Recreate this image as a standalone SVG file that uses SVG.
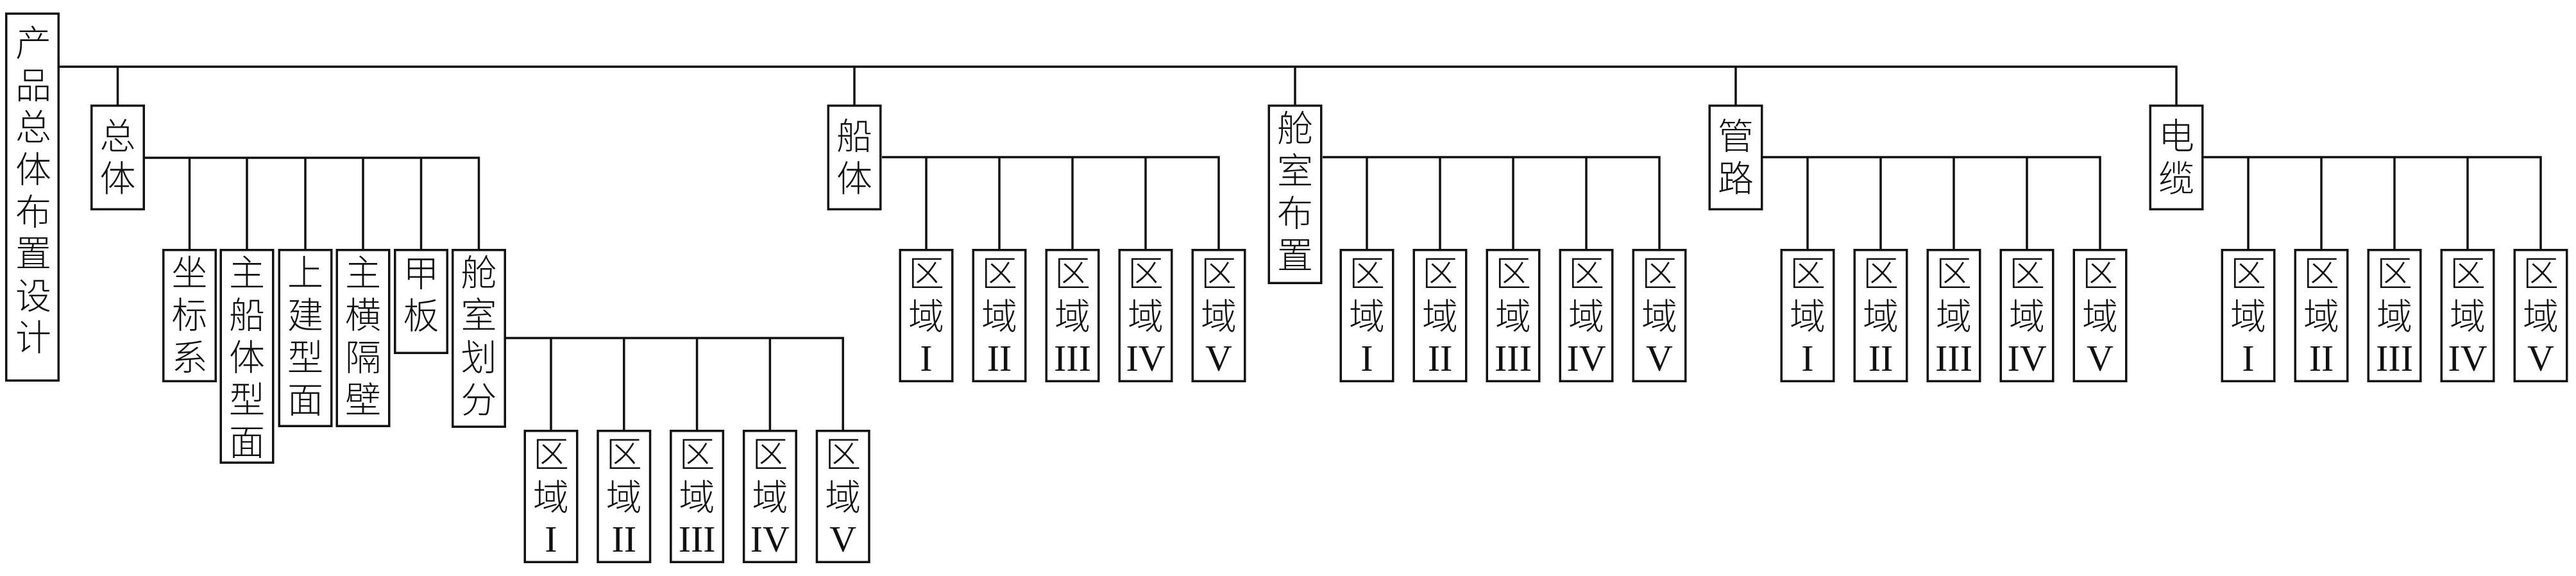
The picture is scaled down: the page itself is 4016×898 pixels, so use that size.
<svg xmlns="http://www.w3.org/2000/svg" width="4016" height="898" viewBox="0 0 4016 898">
<style>
.box{fill:#fff;stroke:#111;stroke-width:3.5}
.ln{fill:none;stroke:#111;stroke-width:3.5}
.zh{font-family:"Noto Sans CJK SC","Noto Sans CJK JP",sans-serif;font-size:56px;font-weight:300;fill:#111;writing-mode:vertical-rl;text-orientation:upright;letter-spacing:10px;text-anchor:start}
.zq{letter-spacing:11px}
.rn{font-family:"Liberation Serif","Times New Roman",serif;font-size:58px;fill:#111;text-anchor:middle}
</style>
<defs>
<g id="qy-box"><rect class="box" x="-40.75" y="1.75" width="81.5" height="204.5"/></g>
</defs>
<rect width="4016" height="898" fill="#fff"/>
<g id="connectors">
<path class="ln" d="M93 104H3393V163"/>
<path class="ln" d="M183.5 104V163M1332 104V163M2019 104V163M2706 104V163"/>
<path class="ln" d="M225 246H746.5V388M295.5 246V388M385 246V388M476 246V388M566 246V388M656.5 246V388"/>
<path class="ln" d="M788 527H1314.2V670M859 527V670M972.8 527V670M1086.6 527V670M1200.4 527V670"/>
<path class="ln" d="M1375 245H1900V388M1444 245V388M1558 245V388M1672 245V388M1786 245V388"/>
<path class="ln" d="M2062 245H2587V388M2131 245V388M2245 245V388M2359 245V388M2473 245V388"/>
<path class="ln" d="M2748 245H3274V388M2818 245V388M2932 245V388M3046 245V388M3160 245V388"/>
<path class="ln" d="M3435 245H3961V388M3505 245V388M3619 245V388M3733 245V388M3847 245V388"/>
</g>
<g id="root">
<rect class="box" x="9.75" y="21.25" width="81.5" height="572"/>
<text class="zh" x="52" y="38" style="letter-spacing:9.6px">产品总体布置设计</text>
</g>
<g id="zongti" transform="translate(183.5,163)"><rect class="box" x="-40.75" y="1.75" width="81.5" height="161.5"/><text class="zh" x="0" y="20">总体</text></g>
<g id="chuanti" transform="translate(1332,163)"><rect class="box" x="-40.75" y="1.75" width="81.5" height="161.5"/><text class="zh" x="0" y="20">船体</text></g>
<g id="cangshibuzhi" transform="translate(2019,163)"><rect class="box" x="-40.75" y="1.75" width="81.5" height="276.5"/><text class="zh" x="0" y="8">舱室布置</text></g>
<g id="guanlu" transform="translate(2706,163)"><rect class="box" x="-40.75" y="1.75" width="81.5" height="161.5"/><text class="zh" x="0" y="20">管路</text></g>
<g id="dianlan" transform="translate(3393,163)"><rect class="box" x="-40.75" y="1.75" width="81.5" height="161.5"/><text class="zh" x="0" y="20">电缆</text></g>
<g id="zuobiaoxi" transform="translate(295.5,388)"><rect class="box" x="-40.75" y="1.75" width="81.5" height="204.5"/><text class="zh" x="0" y="8">坐标系</text></g>
<g id="zhuchuantixingmian" transform="translate(385,388)"><rect class="box" x="-40.75" y="1.75" width="81.5" height="331.5"/><text class="zh" x="0" y="8">主船体型面</text></g>
<g id="shangjianxingmian" transform="translate(476,388)"><rect class="box" x="-40.75" y="1.75" width="81.5" height="274.5"/><text class="zh" x="0" y="8">上建型面</text></g>
<g id="zhuhenggebi" transform="translate(566,388)"><rect class="box" x="-40.75" y="1.75" width="81.5" height="274.5"/><text class="zh" x="0" y="8">主横隔壁</text></g>
<g id="jiaban" transform="translate(656.5,388)"><rect class="box" x="-40.75" y="1.75" width="81.5" height="160.5"/><text class="zh" x="0" y="9">甲板</text></g>
<g id="cangshihuafen" transform="translate(746.5,388)"><rect class="box" x="-40.75" y="1.75" width="81.5" height="275.5"/><text class="zh" x="0" y="8">舱室划分</text></g>
<g id="zt-q1" transform="translate(859,670)"><use href="#qy-box"/><text class="zh zq" x="0" y="9">区域</text><text class="rn" x="0" y="190">I</text></g>
<g id="zt-q2" transform="translate(972.8,670)"><use href="#qy-box"/><text class="zh zq" x="0" y="9">区域</text><text class="rn" x="0" y="190">II</text></g>
<g id="zt-q3" transform="translate(1086.6,670)"><use href="#qy-box"/><text class="zh zq" x="0" y="9">区域</text><text class="rn" x="0" y="190">III</text></g>
<g id="zt-q4" transform="translate(1200.4,670)"><use href="#qy-box"/><text class="zh zq" x="0" y="9">区域</text><text class="rn" x="0" y="190">IV</text></g>
<g id="zt-q5" transform="translate(1314.2,670)"><use href="#qy-box"/><text class="zh zq" x="0" y="9">区域</text><text class="rn" x="0" y="190">V</text></g>
<g id="ct-q1" transform="translate(1444,388)"><use href="#qy-box"/><text class="zh zq" x="0" y="9">区域</text><text class="rn" x="0" y="190">I</text></g>
<g id="ct-q2" transform="translate(1558,388)"><use href="#qy-box"/><text class="zh zq" x="0" y="9">区域</text><text class="rn" x="0" y="190">II</text></g>
<g id="ct-q3" transform="translate(1672,388)"><use href="#qy-box"/><text class="zh zq" x="0" y="9">区域</text><text class="rn" x="0" y="190">III</text></g>
<g id="ct-q4" transform="translate(1786,388)"><use href="#qy-box"/><text class="zh zq" x="0" y="9">区域</text><text class="rn" x="0" y="190">IV</text></g>
<g id="ct-q5" transform="translate(1900,388)"><use href="#qy-box"/><text class="zh zq" x="0" y="9">区域</text><text class="rn" x="0" y="190">V</text></g>
<g id="cs-q1" transform="translate(2131,388)"><use href="#qy-box"/><text class="zh zq" x="0" y="9">区域</text><text class="rn" x="0" y="190">I</text></g>
<g id="cs-q2" transform="translate(2245,388)"><use href="#qy-box"/><text class="zh zq" x="0" y="9">区域</text><text class="rn" x="0" y="190">II</text></g>
<g id="cs-q3" transform="translate(2359,388)"><use href="#qy-box"/><text class="zh zq" x="0" y="9">区域</text><text class="rn" x="0" y="190">III</text></g>
<g id="cs-q4" transform="translate(2473,388)"><use href="#qy-box"/><text class="zh zq" x="0" y="9">区域</text><text class="rn" x="0" y="190">IV</text></g>
<g id="cs-q5" transform="translate(2587,388)"><use href="#qy-box"/><text class="zh zq" x="0" y="9">区域</text><text class="rn" x="0" y="190">V</text></g>
<g id="gl-q1" transform="translate(2818,388)"><use href="#qy-box"/><text class="zh zq" x="0" y="9">区域</text><text class="rn" x="0" y="190">I</text></g>
<g id="gl-q2" transform="translate(2932,388)"><use href="#qy-box"/><text class="zh zq" x="0" y="9">区域</text><text class="rn" x="0" y="190">II</text></g>
<g id="gl-q3" transform="translate(3046,388)"><use href="#qy-box"/><text class="zh zq" x="0" y="9">区域</text><text class="rn" x="0" y="190">III</text></g>
<g id="gl-q4" transform="translate(3160,388)"><use href="#qy-box"/><text class="zh zq" x="0" y="9">区域</text><text class="rn" x="0" y="190">IV</text></g>
<g id="gl-q5" transform="translate(3274,388)"><use href="#qy-box"/><text class="zh zq" x="0" y="9">区域</text><text class="rn" x="0" y="190">V</text></g>
<g id="dl-q1" transform="translate(3505,388)"><use href="#qy-box"/><text class="zh zq" x="0" y="9">区域</text><text class="rn" x="0" y="190">I</text></g>
<g id="dl-q2" transform="translate(3619,388)"><use href="#qy-box"/><text class="zh zq" x="0" y="9">区域</text><text class="rn" x="0" y="190">II</text></g>
<g id="dl-q3" transform="translate(3733,388)"><use href="#qy-box"/><text class="zh zq" x="0" y="9">区域</text><text class="rn" x="0" y="190">III</text></g>
<g id="dl-q4" transform="translate(3847,388)"><use href="#qy-box"/><text class="zh zq" x="0" y="9">区域</text><text class="rn" x="0" y="190">IV</text></g>
<g id="dl-q5" transform="translate(3961,388)"><use href="#qy-box"/><text class="zh zq" x="0" y="9">区域</text><text class="rn" x="0" y="190">V</text></g>
</svg>
